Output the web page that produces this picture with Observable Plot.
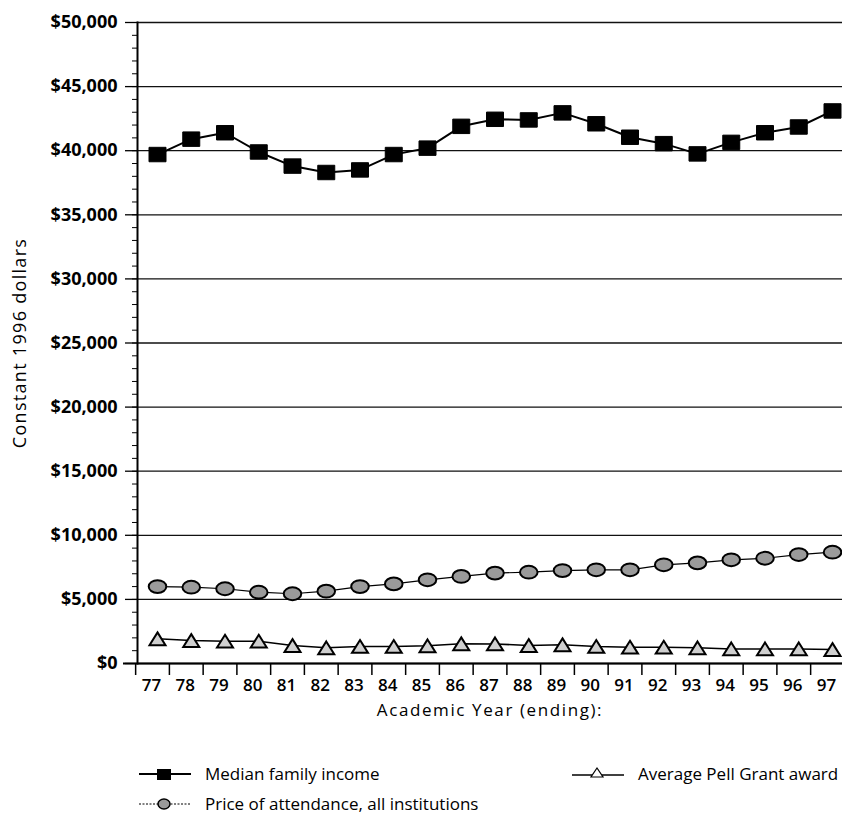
<!DOCTYPE html>
<html><head><meta charset="utf-8">
<script src="https://cdn.jsdelivr.net/npm/d3@7"></script>
<script src="https://cdn.jsdelivr.net/npm/@observablehq/plot@0.6"></script>
<style>
body{margin:0;background:#fff;}
#wrap{position:relative;width:842px;height:821px;font-family:"Open Sans",sans-serif;color:#000;background:#fff;overflow:hidden;}
#wrap svg [aria-label="y-axis tick label"]{font-weight:700;font-size:18px;}
#wrap svg [aria-label="x-axis tick label"]{font-weight:600;font-size:17px;}
#wrap svg [aria-label="y-axis label"]{font-size:18px;letter-spacing:1.3px;}
#wrap svg [aria-label="x-axis label"]{font-size:17px;letter-spacing:1.6px;}
.leg{position:absolute;display:flex;align-items:center;font-size:17px;white-space:nowrap;}
.leg svg{margin-right:14px;}
</style></head><body><div id="wrap"></div>
<script>
const years = [77,78,79,80,81,82,83,84,85,86,87,88,89,90,91,92,93,94,95,96,97];
const medianIncome = [39700,40900,41400,39900,38800,38300,38500,39700,40200,41900,42450,42400,42950,42100,41050,40550,39750,40650,41400,41850,43100];
const priceAttendance = [6000,5950,5830,5560,5440,5640,6000,6210,6530,6790,7050,7120,7250,7310,7310,7700,7850,8090,8210,8500,8680];
const pellGrant = [1930,1790,1740,1740,1400,1220,1330,1330,1380,1540,1530,1400,1460,1330,1270,1270,1220,1140,1140,1140,1090];
const yTicks = [0,5000,10000,15000,20000,25000,30000,35000,40000,45000,50000];
const yMinorTicks = d3.range(0, 50001, 1000);
const seriesNames = ["Median family income","Price of attendance, all institutions","Average Pell Grant award"];

const rows = years.map((yr, i) => ({year: yr, income: medianIncome[i], price: priceAttendance[i], pell: pellGrant[i]}));

const rectSymbol = {draw(ctx, size){const r=Math.sqrt(size/Math.PI);const w=r,h=r*0.85;ctx.moveTo(-w,-h);ctx.lineTo(w,-h);ctx.lineTo(w,h);ctx.lineTo(-w,h);ctx.closePath();}};
const ellipseSymbol = {draw(ctx, size){const r=Math.sqrt(size/Math.PI);const rx=r*1.1,ry=r*0.8,k=0.5523;
  ctx.moveTo(rx,0);ctx.bezierCurveTo(rx,ry*k,rx*k,ry,0,ry);ctx.bezierCurveTo(-rx*k,ry,-rx,ry*k,-rx,0);
  ctx.bezierCurveTo(-rx,-ry*k,-rx*k,-ry,0,-ry);ctx.bezierCurveTo(rx*k,-ry,rx,-ry*k,rx,0);ctx.closePath();}};
const triSymbol = {draw(ctx, size){const r=Math.sqrt(size/Math.PI);const w=r,h=r*0.8;ctx.moveTo(0,-h);ctx.lineTo(w,h);ctx.lineTo(-w,h);ctx.closePath();}};

const chart = Plot.plot({
  width: 842, height: 735,
  marginLeft: 137, marginRight: 0, marginTop: 22, marginBottom: 72,
  style: {fontFamily: '"Open Sans", sans-serif', fontSize: "16px", color: "#000", background: "#fff", overflow: "visible"},
  x: {domain: [76.585, 97.474], label: null},
  y: {domain: [0, 50000], label: null},
  marks: [
    Plot.gridY(yTicks, {stroke: "#111", strokeOpacity: 1, strokeWidth: 1.3}),
    Plot.axisY(yMinorTicks, {tickSize: 5, tickFormat: () => "", label: null, strokeWidth: 1}),
    Plot.axisY(yTicks, {tickSize: 12, tickPadding: 8, tickFormat: d => "$" + d3.format(",")(d),
      label: "Constant 1996 dollars", labelAnchor: "center", labelOffset: 124, labelArrow: "none", strokeWidth: 1.3}),
    Plot.axisX(years.map(y => y - 0.47), {tickSize: 12, tickFormat: () => "", label: null, strokeWidth: 1.5}),
    Plot.axisX(years, {tickSize: 0, tickPadding: 15, tickFormat: d => String(d),
      label: "Academic Year (ending):", labelAnchor: "center", labelOffset: 52, labelArrow: "none"}),
    Plot.frame({anchor: "left", strokeWidth: 2}),
    Plot.ruleY([0], {strokeWidth: 2, insetLeft: -14}),
    Plot.line(rows, {x: "year", y: "income", dx: 6, stroke: "#000", strokeWidth: 2}),
    Plot.line(rows, {x: "year", y: "price", dx: 6, stroke: "#000", strokeWidth: 1.2}),
    Plot.line(rows, {x: "year", y: "pell", dx: 6, stroke: "#000", strokeWidth: 1.5}),
    Plot.dot(rows, {x: "year", y: "income", dx: 6, symbol: rectSymbol, r: 8.5, fill: "#000", stroke: "#000", strokeWidth: 1}),
    Plot.dot(rows, {x: "year", y: "price", dx: 6, symbol: ellipseSymbol, r: 8, fill: "#9a9a9a", stroke: "#000", strokeWidth: 2}),
    Plot.dot(rows, {x: "year", y: "pell", dx: 6, symbol: triSymbol, r: 8, fill: "#cfcfcf", stroke: "#000", strokeWidth: 2})
  ]
});
const wrap = document.getElementById("wrap");
wrap.appendChild(chart);

function swatch(kind){
  const ns="http://www.w3.org/2000/svg";
  const s=document.createElementNS(ns,"svg");s.setAttribute("width","52");s.setAttribute("height","20");
  let html='';
  if(kind===0){html='<line x1="0" y1="10" x2="52" y2="10" stroke="#000" stroke-width="2"/><rect x="18" y="5" width="14" height="11" fill="#000"/>';}
  if(kind===1){html='<line x1="0" y1="10" x2="52" y2="10" stroke="#000" stroke-width="1" stroke-dasharray="2,1.5"/><ellipse cx="25" cy="10" rx="6" ry="5" fill="#9a9a9a" stroke="#000" stroke-width="1.5"/>';}
  if(kind===2){html='<line x1="0" y1="11" x2="52" y2="11" stroke="#000" stroke-width="1.5"/><path d="M25,4 L31,13 L19,13 Z" fill="#fff" stroke="#000" stroke-width="1.2"/>';}
  s.innerHTML=html;return s;
}
const legPos=[[139,762],[139,792],[572,762]];
seriesNames.forEach((name,i)=>{
  const d=document.createElement("div");d.className="leg";
  d.style.left=legPos[i][0]+"px";d.style.top=legPos[i][1]+"px";
  d.appendChild(swatch(i));
  const t=document.createElement("span");t.textContent=name;d.appendChild(t);
  wrap.appendChild(d);
});
</script></body></html>
